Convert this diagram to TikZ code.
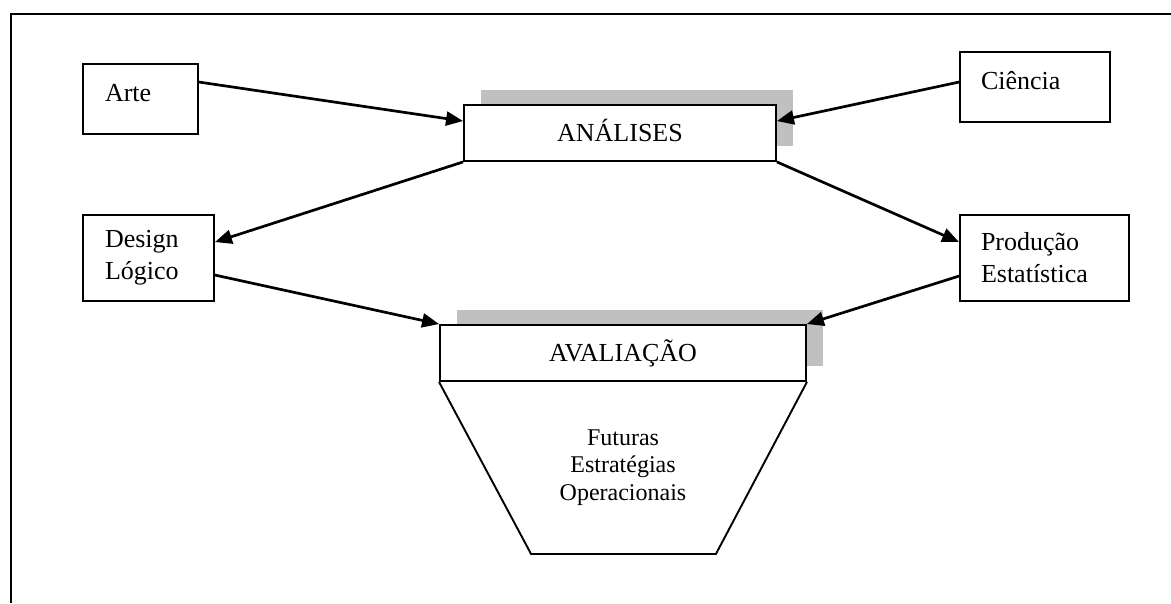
\documentclass[tikz,border=0pt]{standalone}
\usepackage{fontspec}
\setmainfont{Liberation Serif}
\usetikzlibrary{arrows.meta,calc,shadows}
\definecolor{shadowgray}{RGB}{192,192,192}
\tikzset{
  sidebox/.style={draw, line width=1.9pt, inner ysep=0pt, align=left,
    font=\fontsize{26}{32}\selectfont},
  titlebox/.style={draw, fill=white, line width=1.9pt, inner sep=0pt,
    minimum height=56pt, text height=17.5pt, text depth=0pt,
    font=\fontsize{26}{32}\selectfont,
    general shadow={fill=shadowgray, shadow xshift=16.5pt, shadow yshift=15.5pt}},
  link/.style={line width=2.7pt, -{Triangle[length=17pt,width=14pt]}},
  outline/.style={line width=1.9pt, line join=miter},
  frameline/.style={line width=2.8pt},
}
\begin{document}
\begin{tikzpicture}[x=1pt,y=-1pt]
\useasboundingbox (0,0) rectangle (1171,603);

% page frame (left and top edges)
\coordinate (f1) at (11,603);
\coordinate (f2) at (11,14);
\coordinate (f3) at (1171,14);
\draw[frameline] (f1) -- (f2) -- (f3);

% side boxes
\node[sidebox, minimum width=115pt, minimum height=70pt, inner xsep=22pt,
      text width=71pt, text height=18pt, text depth=14pt] (arte) at (140.5,99) {Arte};
\node[sidebox, minimum width=150pt, minimum height=70pt, inner xsep=21pt,
      text width=108pt, text height=18pt, text depth=14pt] (cie) at (1035,87) {Ciência};
\node[sidebox, minimum width=131pt, minimum height=86pt, inner xsep=22pt,
      text width=87pt] (des) at (148.5,258) {Design\\Lógico};
\node[sidebox, minimum width=169pt, minimum height=86pt, inner xsep=21pt,
      text width=127pt] (pro) at (1044.5,258) {Produção\\Estatística};

% central boxes with offset shadows
\node[titlebox, minimum width=312pt] (ana) at (620,133) {ANÁLISES};
\node[titlebox, minimum width=366pt] (ava) at (623,353) {AVALIAÇÃO};

% funnel below the evaluation box
\coordinate (bl) at ($(ava.south west)+(92,172)$);
\coordinate (br) at ($(ava.south east)+(-91,172)$);
\draw[outline] (ava.south west) -- (bl) -- (br) -- (ava.south east);
\node[inner sep=0pt, align=center, font=\fontsize{24}{27.2}\selectfont] (fut)
  at ($(ava.south)+(0,85.6)$) {Futuras\\Estratégias\\Operacionais};

% connectors
\draw[link] ($(arte.north east)+(0,19)$) -- ($(ana.north west)+(0,17)$);
\draw[link] ($(cie.north west)+(0,31)$) -- ($(ana.north east)+(0,17)$);
\draw[link] (ana.south west) -- ($(des.north east)+(0,28)$);
\draw[link] (ana.south east) -- ($(pro.north west)+(0,28)$);
\draw[link] ($(des.north east)+(0,61)$) -- (ava.north west);
\draw[link] ($(pro.north west)+(0,62)$) -- (ava.north east);
\end{tikzpicture}
\end{document}
